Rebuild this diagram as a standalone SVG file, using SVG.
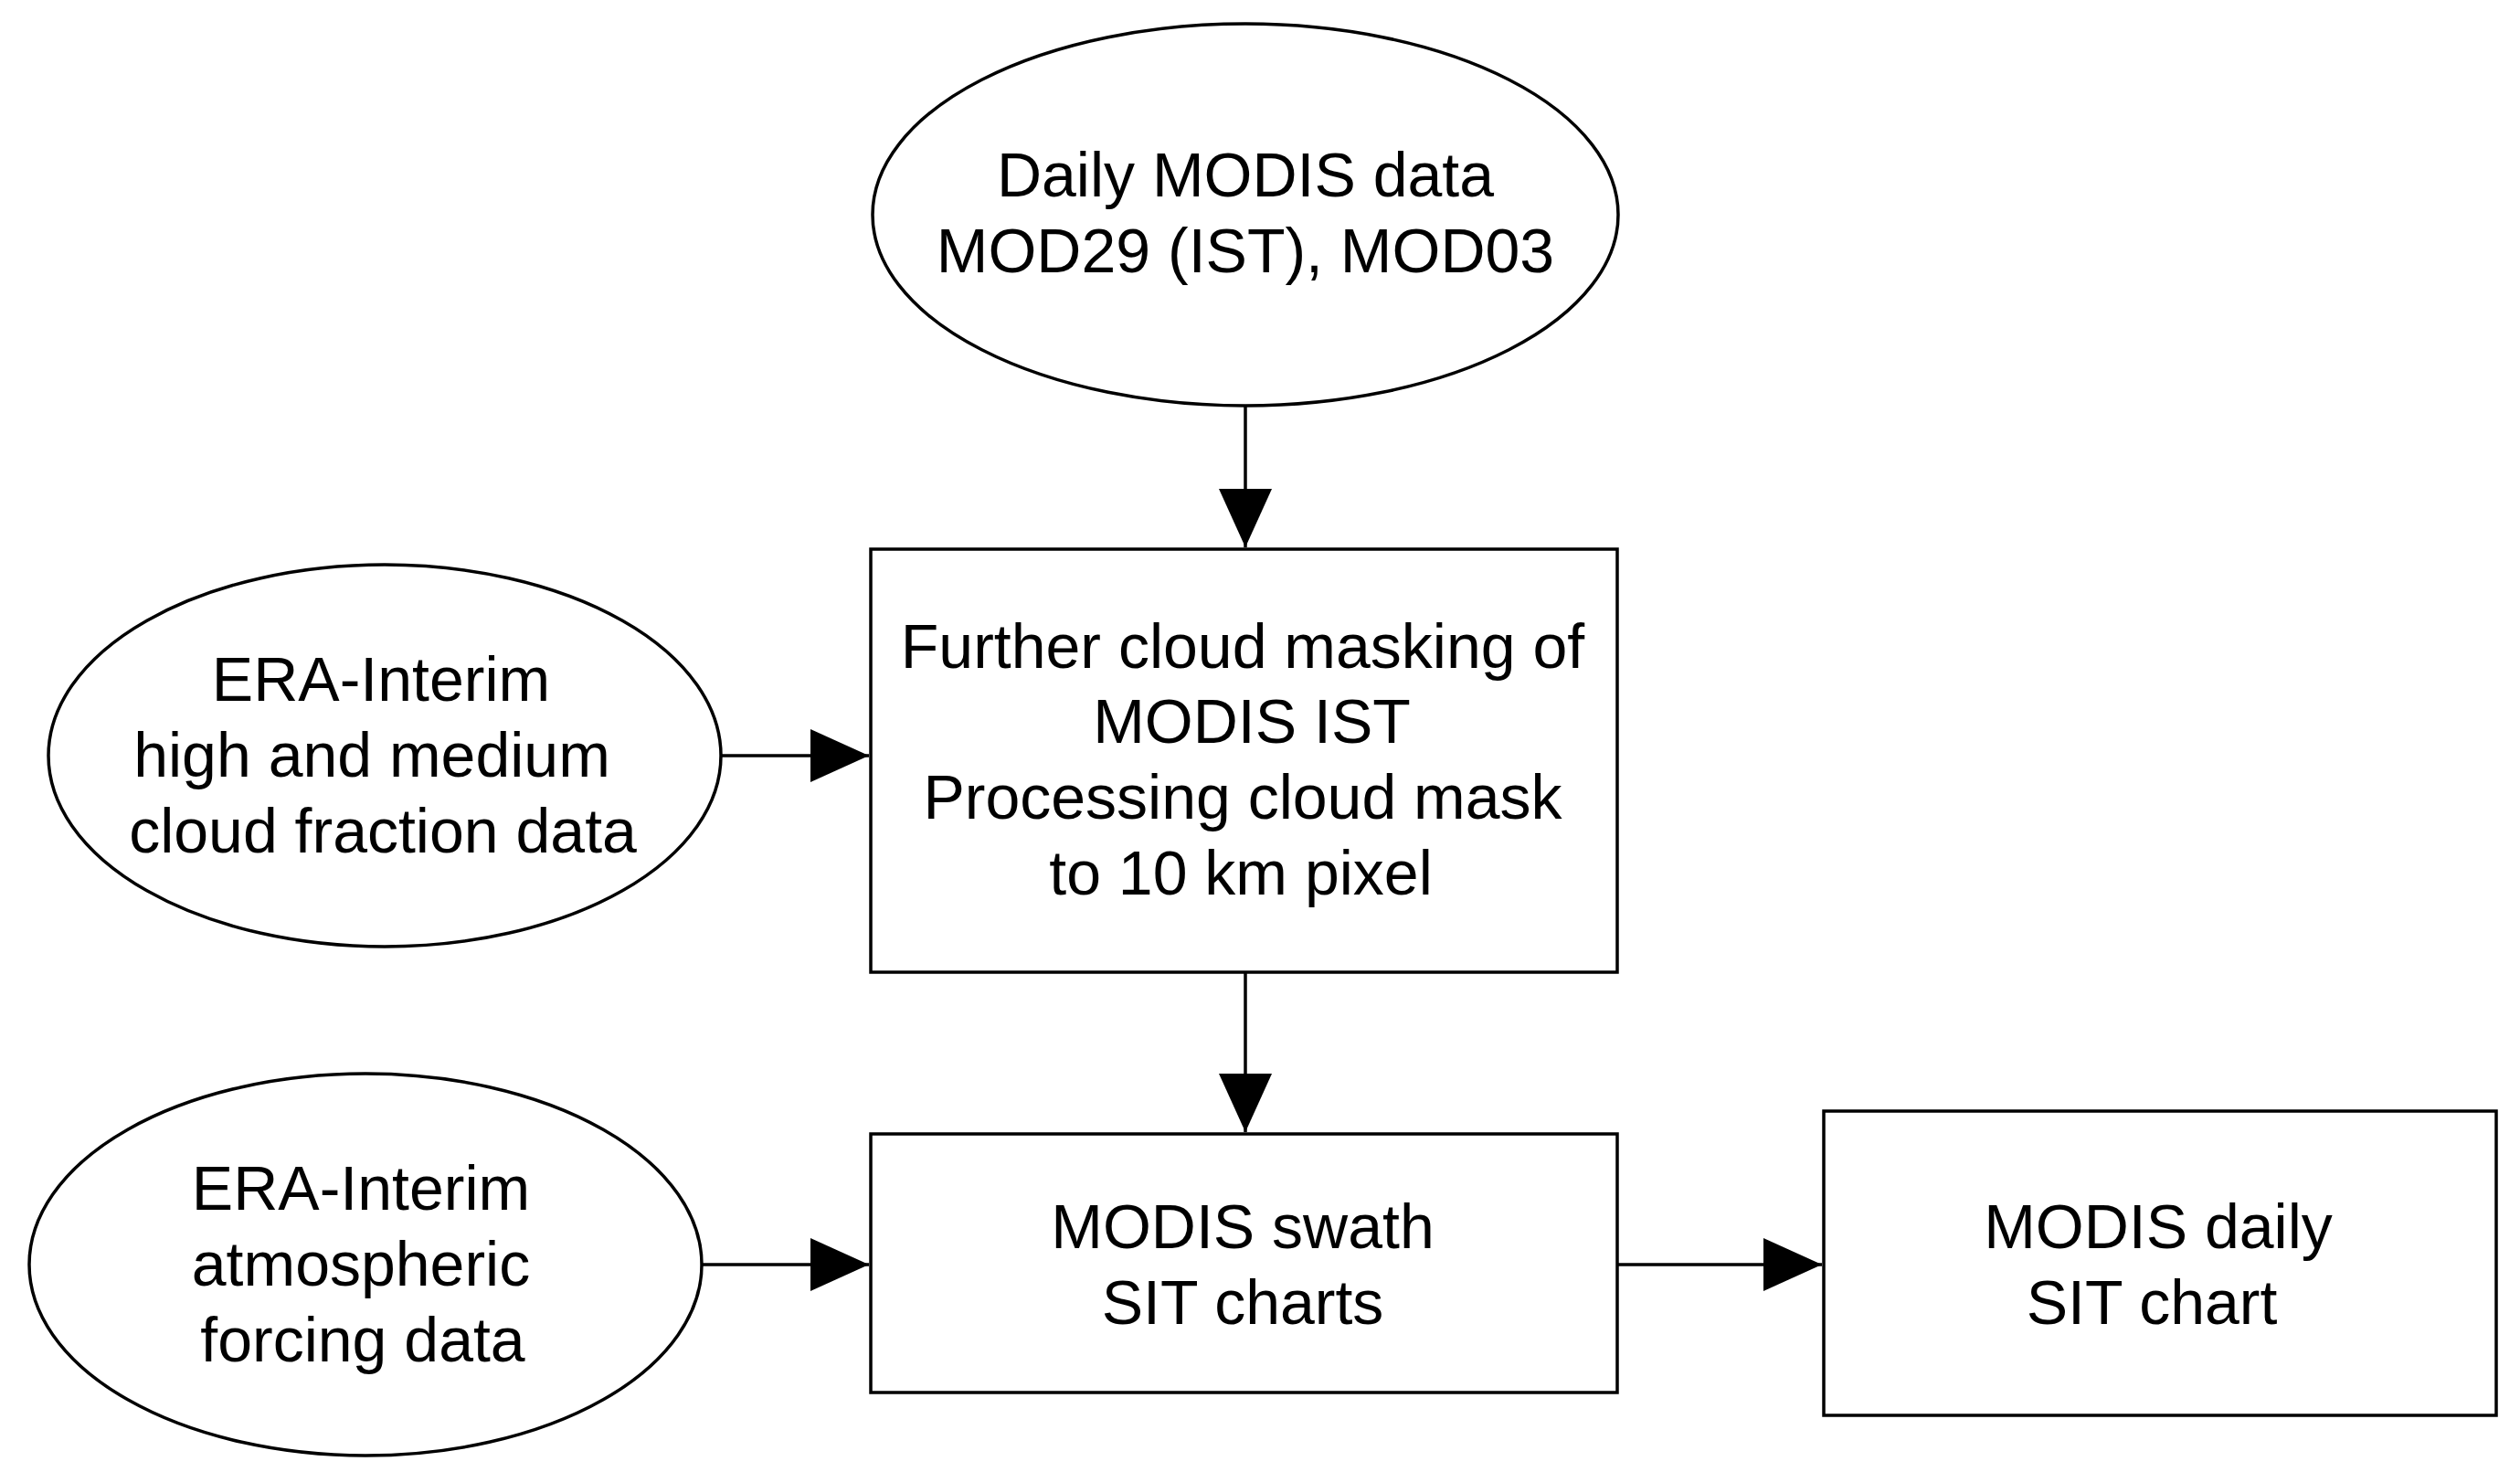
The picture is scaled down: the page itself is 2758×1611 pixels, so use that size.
<svg xmlns="http://www.w3.org/2000/svg" width="2758" height="1611" viewBox="0 0 2758 1611">
<style>
.s{fill:#fff;stroke:#000;stroke-width:3.5}
.t{font-family:"Liberation Sans",Arial,sans-serif;font-size:68px;text-anchor:middle;fill:#000}
.c{stroke:#000;stroke-width:3.5;fill:none;marker-end:url(#a)}
</style>
<defs><marker id="a" markerUnits="userSpaceOnUse" markerWidth="66" markerHeight="58" refX="64" refY="29" orient="auto"><path d="M0,0 L64,29 L0,58 Z" fill="#000"/></marker></defs>
<rect width="2758" height="1611" fill="#fff"/>
<g id="modis"><ellipse class="s" cx="1363" cy="235" rx="408" ry="209"/><text class="t" x="1363" y="215">Daily MODIS data</text><text class="t" x="1363" y="298">MOD29 (IST), MOD03</text></g>
<g id="mask"><rect class="s" x="953" y="601" width="817" height="463"/><text class="t" x="1360" y="731">Further cloud masking of</text><text class="t" x="1370" y="813">MODIS IST</text><text class="t" x="1360" y="896">Processing cloud mask</text><text class="t" x="1358" y="979">to 10 km pixel</text></g>
<g id="era1"><ellipse class="s" cx="421" cy="827" rx="368" ry="209"/><text class="t" x="417" y="767">ERA-Interim</text><text class="t" x="407" y="850">high and medium</text><text class="t" x="419" y="933">cloud fraction data</text></g>
<g id="era2"><ellipse class="s" cx="400" cy="1384" rx="368" ry="209"/><text class="t" x="395" y="1324">ERA-Interim</text><text class="t" x="395" y="1407">atmospheric</text><text class="t" x="397" y="1490">forcing data</text></g>
<g id="swath"><rect class="s" x="953" y="1241" width="817" height="283"/><text class="t" x="1360" y="1366">MODIS swath</text><text class="t" x="1360" y="1449">SIT charts</text></g>
<g id="daily"><rect class="s" x="1996" y="1216" width="736" height="333"/><text class="t" x="2362" y="1366">MODIS daily</text><text class="t" x="2355" y="1449">SIT chart</text></g>
<g id="connectors">
<line class="c" x1="1363" y1="444" x2="1363" y2="599"/>
<line class="c" x1="1363" y1="1064" x2="1363" y2="1239"/>
<line class="c" x1="789" y1="827" x2="951" y2="827"/>
<line class="c" x1="768" y1="1384" x2="951" y2="1384"/>
<line class="c" x1="1770" y1="1384" x2="1994" y2="1384"/>
</g>
</svg>
